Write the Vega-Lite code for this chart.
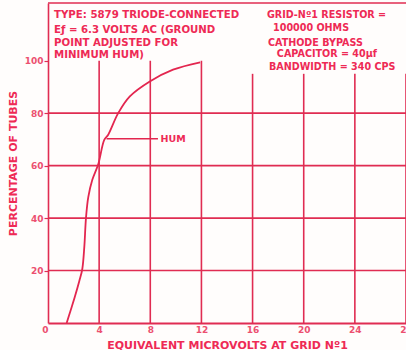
{
  "$schema": "https://vega.github.io/schema/vega-lite/v6.json",
  "width": 358,
  "height": 320,
  "autosize": {"type": "none"},
  "padding": {"left": 48, "top": 3, "right": 0, "bottom": 27},
  "background": "#fffdfc",
  "config": {
    "view": {"stroke": null},
    "font": "DejaVu Sans"
  },
  "datasets": {
    "curve": [
      {"x": 1.46, "y": 0},
      {"x": 1.75, "y": 4.5},
      {"x": 2.1, "y": 10},
      {"x": 2.45, "y": 16},
      {"x": 2.68, "y": 20.5},
      {"x": 2.84, "y": 29},
      {"x": 2.97, "y": 40},
      {"x": 3.15, "y": 48},
      {"x": 3.46, "y": 54.5},
      {"x": 3.93, "y": 60.5},
      {"x": 4.4, "y": 69.8},
      {"x": 4.71, "y": 71.8},
      {"x": 5.49, "y": 80},
      {"x": 6.4, "y": 86.4},
      {"x": 7.96, "y": 92.1},
      {"x": 9.78, "y": 96.6},
      {"x": 11.9, "y": 99.4}
    ],
    "vgrid": [
      {"x": 4, "y": 0, "top": 100},
      {"x": 8, "y": 0, "top": 100},
      {"x": 12, "y": 0, "top": 100},
      {"x": 16, "y": 0, "top": 95},
      {"x": 20, "y": 0, "top": 95},
      {"x": 24, "y": 0, "top": 95},
      {"x": 28, "y": 0, "top": 95}
    ],
    "hgrid": [{"y": 20}, {"y": 40}, {"y": 60}, {"y": 80}, {"y": 122}],
    "hum": [{"x": 4.58, "y": 70.2}, {"x": 8.6, "y": 70.2}],
    "humLabel": [{"x": 8.8, "y": 70.2, "text": "HUM"}],
    "notesLeft": [
      {"x": 0.47, "y": 117.3, "text": "TYPE: 5879 TRIODE-CONNECTED"},
      {"x": 0.47, "y": 111.7, "text": "Eƒ = 6.3 VOLTS AC (GROUND"},
      {"x": 0.47, "y": 106.8, "text": "POINT ADJUSTED FOR"},
      {"x": 0.47, "y": 102.2, "text": "MINIMUM HUM)"}
    ],
    "notesRight": [
      {"x": 17.12, "y": 117.3, "text": "GRID-Nº1 RESISTOR ="},
      {"x": 17.6, "y": 112.3, "text": "100000 OHMS"},
      {"x": 17.2, "y": 106.9, "text": "CATHODE BYPASS"},
      {"x": 17.9, "y": 102.5, "text": "CAPACITOR = 40µf"},
      {"x": 17.28, "y": 97.5, "text": "BANDWIDTH = 340 CPS"}
    ]
  },
  "layer": [
    {
      "data": {"name": "vgrid"},
      "mark": {"type": "rule", "color": "#e02c52", "strokeWidth": 1.6},
      "encoding": {
        "x": {
          "field": "x",
          "type": "quantitative",
          "scale": {"domain": [0, 28], "nice": false, "zero": false},
          "axis": {
            "title": "EQUIVALENT  MICROVOLTS  AT  GRID  Nº1",
            "titleFont": "DejaVu Sans",
            "titleFontSize": 11,
            "titleFontWeight": "bold",
            "titleColor": "#ee2a55",
            "titlePadding": 5,
            "values": [0, 4, 8, 12, 16, 20, 24, 28],
            "labelFlush": false,
            "labelAlign": {"condition": {"test": "datum.value === 0", "value": "right"}, "value": "center"},
            "labelFontSize": 9,
            "labelFontWeight": "bold",
            "labelColor": "#ec5070",
            "labelPadding": 2,
            "ticks": false,
            "grid": false,
            "domainColor": "#e02c52",
            "domainWidth": 1.8
          }
        },
        "y": {
          "field": "y",
          "type": "quantitative",
          "scale": {"domain": [0, 122], "nice": false, "zero": false},
          "axis": {
            "title": "PERCENTAGE OF TUBES",
            "titleFont": "DejaVu Sans",
            "titleFontSize": 11,
            "titleFontWeight": "bold",
            "titleColor": "#ee2a55",
            "titlePadding": 6,
            "values": [20, 40, 60, 80, 100],
            "labelFontSize": 9,
            "labelFontWeight": "bold",
            "labelColor": "#ec5070",
            "labelPadding": 1,
            "tickSize": 4,
            "tickColor": "#e02c52",
            "tickWidth": 1.2,
            "grid": false,
            "domainColor": "#e02c52",
            "domainWidth": 1.6
          }
        },
        "y2": {"field": "top"}
      }
    },
    {
      "data": {"name": "hgrid"},
      "mark": {"type": "rule", "color": "#e02c52", "strokeWidth": 1.6},
      "encoding": {
        "y": {"field": "y", "type": "quantitative"}
      }
    },
    {
      "data": {"name": "curve"},
      "mark": {"type": "line", "color": "#e3264f", "strokeWidth": 1.8, "interpolate": "catmull-rom"},
      "encoding": {
        "x": {"field": "x", "type": "quantitative"},
        "y": {"field": "y", "type": "quantitative"}
      }
    },
    {
      "data": {"name": "hum"},
      "mark": {"type": "line", "color": "#e3264f", "strokeWidth": 1.5},
      "encoding": {
        "x": {"field": "x", "type": "quantitative"},
        "y": {"field": "y", "type": "quantitative"}
      }
    },
    {
      "data": {"name": "humLabel"},
      "mark": {"type": "text", "align": "left", "baseline": "middle", "font": "DejaVu Sans", "fontWeight": "bold", "fontSize": 9.5, "color": "#ee2a55"},
      "encoding": {
        "x": {"field": "x", "type": "quantitative"},
        "y": {"field": "y", "type": "quantitative"},
        "text": {"field": "text"}
      }
    },
    {
      "data": {"name": "notesLeft"},
      "mark": {"type": "text", "align": "left", "baseline": "middle", "font": "DejaVu Sans", "fontWeight": "bold", "fontSize": 10.2, "color": "#ee2a55"},
      "encoding": {
        "x": {"field": "x", "type": "quantitative"},
        "y": {"field": "y", "type": "quantitative"},
        "text": {"field": "text"}
      }
    },
    {
      "data": {"name": "notesRight"},
      "mark": {"type": "text", "align": "left", "baseline": "middle", "font": "DejaVu Sans", "fontWeight": "bold", "fontSize": 9.6, "color": "#ee2a55"},
      "encoding": {
        "x": {"field": "x", "type": "quantitative"},
        "y": {"field": "y", "type": "quantitative"},
        "text": {"field": "text"}
      }
    }
  ]
}
